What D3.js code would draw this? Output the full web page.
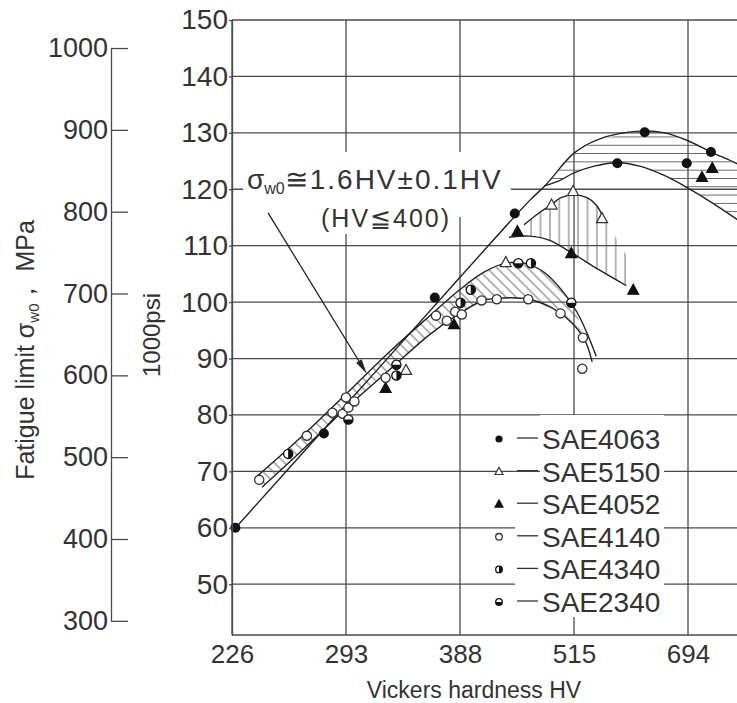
<!DOCTYPE html>
<html><head><meta charset="utf-8">
<script src="https://cdn.jsdelivr.net/npm/d3@7"></script>
<style>
html,body{margin:0;padding:0;background:#fff;}
svg{display:block;}
text{font-family:"Liberation Sans",Arial,sans-serif;fill:#333;}
</style></head><body>
<svg id="chart" width="737" height="703"></svg>
<script>
// Hardness ticks (HV), evenly spaced along the axis
const hvTicks = [226, 293, 388, 515, 694];
const ksiTicks = [50, 60, 70, 80, 90, 100, 110, 120, 130, 140, 150];
const mpaTicks = [300, 400, 500, 600, 700, 800, 900, 1000];
const ksiToMPa = 6.895;

// Measured fatigue limits [HV, 1000 psi]
const sae4063 = [[228,60.0],[280,76.7],[367,100.8],[449,115.7],[583,124.6],[626,130.1],[692,124.6],[730,126.6]];
const sae5150 = [[343,87.9],[439,107.0],[490,117.2],[514,119.6],[559,114.8]];
const sae4052 = [[326,84.7],[383,96.0],[452,112.5],[512,108.6],[608,102.1],[716,122.1],[732,123.7]];
const sae4140 = [[242,68.5],[270,76.3],[285,80.4],[291,80.2],[293,83.1],[295,81.3],[300,82.4],[326,86.6],[368,97.6],[377,96.7],[384,98.3],[390,97.8],[412,100.3],[429,100.5],[464,100.5],[500,98.0],[529,93.7],[528,88.2]];
const sae4340 = [[259,73.1],[335,87.0],[388.6,99.9],[400,102.2],[467,106.9]];
const sae2340 = [[295,79.2],[335,88.9],[453,106.9],[512,99.9]];

// Scatter-band boundaries [HV, 1000 psi]
const upperEnvelope = [[228.4,60.1],[293,81.8],[388,104.4],[464.9,117.9],[483.8,120.8],[515,126.4],[554.6,128.9],[618,130.3],[657.6,130.0],[694,128.6],[730.4,126.6],[771.6,124.5],[808,122.0]];
const highBandLower = [[481.6,120.6],[498.3,121.5],[515,122.9],[546.7,124.1],[583.1,124.7],[618,124.1],[657.6,122.4],[694,120.2],[732,117.6],[771.6,114.6],[808,111.5]];
const midBandUpper = [[459.3,113.7],[476,115.8],[489.3,117.2],[500.4,118.5],[515,119.0],[535.6,118.5],[549.8,117.2],[559.4,115.4]];
const midBandEdge = [[559.4,115.4],[578.4,111.9],[597.4,108.3]];
const midBandLower = [[442.6,111.5],[464.9,111.7],[487.1,111.0],[512.8,108.7],[554.6,105.7],[597.4,102.9]];
const lowBandUpper = [[239.5,68.8],[266,75.9],[293,83.7],[329.3,91.2],[362.4,97.5],[387.2,102.1],[414.7,105.3],[439.2,106.9],[459.3,106.9],[481.6,105.3],[500.5,102.3],[519.8,98.2],[538.8,93.6],[549.8,90.4]];
const lowBandLower = [[243.6,67.2],[266,73.4],[293,81.2],[329.3,88.0],[362.4,94.2],[387.2,97.9],[412.5,100.2],[431.4,100.7],[464.9,100.5],[498.3,98.2],[529.3,93.8],[543.5,89.4]];

// Arrow of the annotation [HV, 1000 psi]
const arrowFrom = [247.2, 115.8];
const arrowTo = [310.3, 87.3];

const legendItems = [
  {name: "SAE4063", sym: "dot"},
  {name: "SAE5150", sym: "triOpen"},
  {name: "SAE4052", sym: "tri"},
  {name: "SAE4140", sym: "ring"},
  {name: "SAE4340", sym: "halfR"},
  {name: "SAE2340", sym: "halfB"}
];
const seriesSym = [[sae4063,"dot"],[sae5150,"triOpen"],[sae4052,"tri"],[sae4140,"ring"],[sae4340,"halfR"],[sae2340,"halfB"]];

const W = 737, H = 703;
const plotLeft = 232, plotTop = 20, plotBottom = 635;
const ink = "#333", gridInk = "#4a4a4a";

const svg = d3.select("#chart");
svg.append("rect").attr("width", W).attr("height", H).attr("fill", "#fff");

const x = d3.scaleLinear().domain(hvTicks).range(hvTicks.map((d, i) => plotLeft + i * 114));
const y = d3.scaleLinear().domain([41, 150]).range([plotBottom, plotTop]);
const yMPa = d3.scaleLinear().domain([300, 1000]).range([y(300 / ksiToMPa), y(1000 / ksiToMPa)]);

const defs = svg.append("defs");
function hatch(id, spacing, angle) {
  const p = defs.append("pattern").attr("id", id).attr("patternUnits", "userSpaceOnUse")
    .attr("width", 40).attr("height", spacing)
    .attr("patternTransform", `rotate(${angle})`);
  p.append("line").attr("x1", 0).attr("x2", 40).attr("y1", spacing / 2).attr("y2", spacing / 2)
    .attr("stroke", "#555").attr("stroke-width", 0.9);
}
hatch("hatchH", 8.3, 0);
hatch("hatchV", 9.4, 90);
hatch("hatchD", 7.2, 45);

// Grid
const grid = svg.append("g").attr("stroke", gridInk).attr("stroke-width", 1.3);
ksiTicks.forEach(v => grid.append("line").attr("x1", plotLeft).attr("x2", W).attr("y1", y(v)).attr("y2", y(v)));
hvTicks.forEach(v => grid.append("line").attr("x1", x(v)).attr("x2", x(v)).attr("y1", plotTop).attr("y2", plotBottom));
grid.append("line").attr("x1", plotLeft).attr("x2", W).attr("y1", plotBottom).attr("y2", plotBottom);

const line = d3.line().x(d => x(d[0])).y(d => y(d[1])).curve(d3.curveCatmullRom.alpha(0.5));
const path = d3.line().x(d => x(d[0])).y(d => y(d[1]));

// Hatched bands
const aFrom = upperEnvelope.filter(d => d[0] >= 481);
svg.append("path").attr("d", path(aFrom.concat(highBandLower.slice().reverse()))).attr("fill", "url(#hatchH)");
svg.append("path").attr("d", path(midBandUpper.concat(midBandEdge.slice(1), midBandLower.slice().reverse().filter(d => d[0] > 460)))).attr("fill", "url(#hatchV)");
svg.append("path").attr("d", path(lowBandUpper.slice(0, -2).concat(lowBandLower.slice(0, -1).reverse()))).attr("fill", "url(#hatchD)");

// Band outlines
const curves = svg.append("g").attr("fill", "none").attr("stroke", "#222").attr("stroke-width", 1.4);
[upperEnvelope, highBandLower, midBandUpper, midBandLower, lowBandUpper, lowBandLower].forEach(c => curves.append("path").attr("d", line(c)));

// Annotation
svg.append("rect").attr("x", 243).attr("y", 152).attr("width", 268).attr("height", 65).attr("fill", "#fff");
svg.append("rect").attr("x", 318).attr("y", 195).attr("width", 137).attr("height", 39).attr("fill", "#fff");
const ann = svg.append("text").attr("x", x(234.8)).attr("y", y(120)).attr("font-size", 28);
ann.append("tspan").text("σ");
ann.append("tspan").attr("font-size", 16).attr("dy", 5).text("w0");
ann.append("tspan").attr("dy", -5).attr("letter-spacing", 2).text("≅1.6HV±0.1HV");
svg.append("text").attr("x", 321).attr("y", 227).attr("font-size", 25).attr("letter-spacing", 2).text("(HV≦400)");

const a0 = [x(arrowFrom[0]), y(arrowFrom[1])], a1 = [x(arrowTo[0]), y(arrowTo[1])];
const ang = Math.atan2(a1[1] - a0[1], a1[0] - a0[0]);
svg.append("line").attr("x1", a0[0]).attr("y1", a0[1]).attr("x2", a1[0] - 10 * Math.cos(ang)).attr("y2", a1[1] - 10 * Math.sin(ang))
  .attr("stroke", "#222").attr("stroke-width", 1.3);
svg.append("path").attr("transform", `translate(${a1[0]},${a1[1]}) rotate(${ang * 180 / Math.PI})`)
  .attr("d", "M0,0 L-15,-3.2 L-15,3.2 Z").attr("fill", "#222");

// Markers
function drawMarker(g, sym, cx, cy, s) {
  const r = 5 * s;
  const gg = g.append("g").attr("transform", `translate(${cx},${cy})`);
  if (sym === "dot") gg.append("circle").attr("r", r).attr("fill", "#111");
  else if (sym === "ring") gg.append("circle").attr("r", r * 0.92).attr("fill", "#fff").attr("stroke", "#333").attr("stroke-width", 1.3);
  else if (sym === "tri" || sym === "triOpen") {
    const h = 10 * s, w = 11 * s;
    gg.append("path").attr("d", `M0,${-h * 0.6} L${w / 2},${h * 0.4} L${-w / 2},${h * 0.4} Z`)
      .attr("fill", sym === "tri" ? "#111" : "#fff").attr("stroke", sym === "tri" ? "#111" : "#333").attr("stroke-width", 1.2);
  } else {
    gg.append("circle").attr("r", r * 0.92).attr("fill", "#fff").attr("stroke", "#111").attr("stroke-width", 1.3);
    const rr = r * 0.92;
    const d = sym === "halfR" ? `M0,${-rr} A${rr},${rr} 0 0 1 0,${rr} Z` : `M${-rr},0 A${rr},${rr} 0 0 0 ${rr},0 Z`;
    gg.append("path").attr("d", d).attr("fill", "#111");
  }
}
const marks = svg.append("g");
seriesSym.forEach(([data, sym]) => data.forEach(d => drawMarker(marks, sym, x(d[0]), y(d[1]), 1)));

// Legend
const lg = svg.append("g");
lg.append("rect").attr("x", 540).attr("y", 415).attr("width", 124).attr("height", 202).attr("fill", "#fff");
lg.append("rect").attr("x", 515).attr("y", 518).attr("width", 26).attr("height", 72).attr("fill", "#fff");
legendItems.forEach((it, i) => {
  const cy = 438 + i * 32.6;
  drawMarker(lg, it.sym, 499, cy + 1, 0.72);
  lg.append("line").attr("x1", 517).attr("x2", 538).attr("y1", cy).attr("y2", cy).attr("stroke", "#333").attr("stroke-width", 1.3);
  lg.append("text").attr("x", 542).attr("y", cy + 11).attr("font-size", 28).text(it.name);
});

// Axes
const axL = svg.append("g").attr("transform", `translate(${plotLeft},0)`)
  .call(d3.axisLeft(y).tickValues(ksiTicks).tickSizeInner(3).tickSizeOuter(0).tickPadding(1));
const axB = svg.append("g").attr("transform", `translate(0,${plotBottom})`)
  .call(d3.axisBottom(x).tickValues(hvTicks).tickSize(0).tickPadding(10).tickFormat(d3.format("d")));
axB.select(".domain").remove();
const axM = svg.append("g").attr("transform", "translate(111,0)")
  .call(d3.axisLeft(yMPa).tickValues(mpaTicks).tickSizeInner(-17).tickSizeOuter(0).tickPadding(3).tickFormat(d3.format("d")));
[[axL, 28], [axB, 26], [axM, 27]].forEach(([a, fs]) => {
  a.selectAll("path,line").attr("stroke", gridInk).attr("stroke-width", 1.3);
  a.selectAll("text").attr("font-size", fs).attr("fill", ink).attr("font-family", "Liberation Sans, Arial, sans-serif");
});

// Axis titles
svg.append("text").attr("transform", "translate(160,335) rotate(-90)").attr("text-anchor", "middle").attr("font-size", 24).text("1000psi");
const ft = svg.append("text").attr("transform", "translate(34,350) rotate(-90)").attr("text-anchor", "middle").attr("font-size", 25);
ft.append("tspan").text("Fatigue limit σ");
ft.append("tspan").attr("font-size", 15).attr("dy", 5).text("w0");
ft.append("tspan").attr("dy", -5).text("，  MPa");
svg.append("text").attr("x", 474).attr("y", 698).attr("text-anchor", "middle").attr("font-size", 23).text("Vickers hardness HV");
</script>
</body></html>
